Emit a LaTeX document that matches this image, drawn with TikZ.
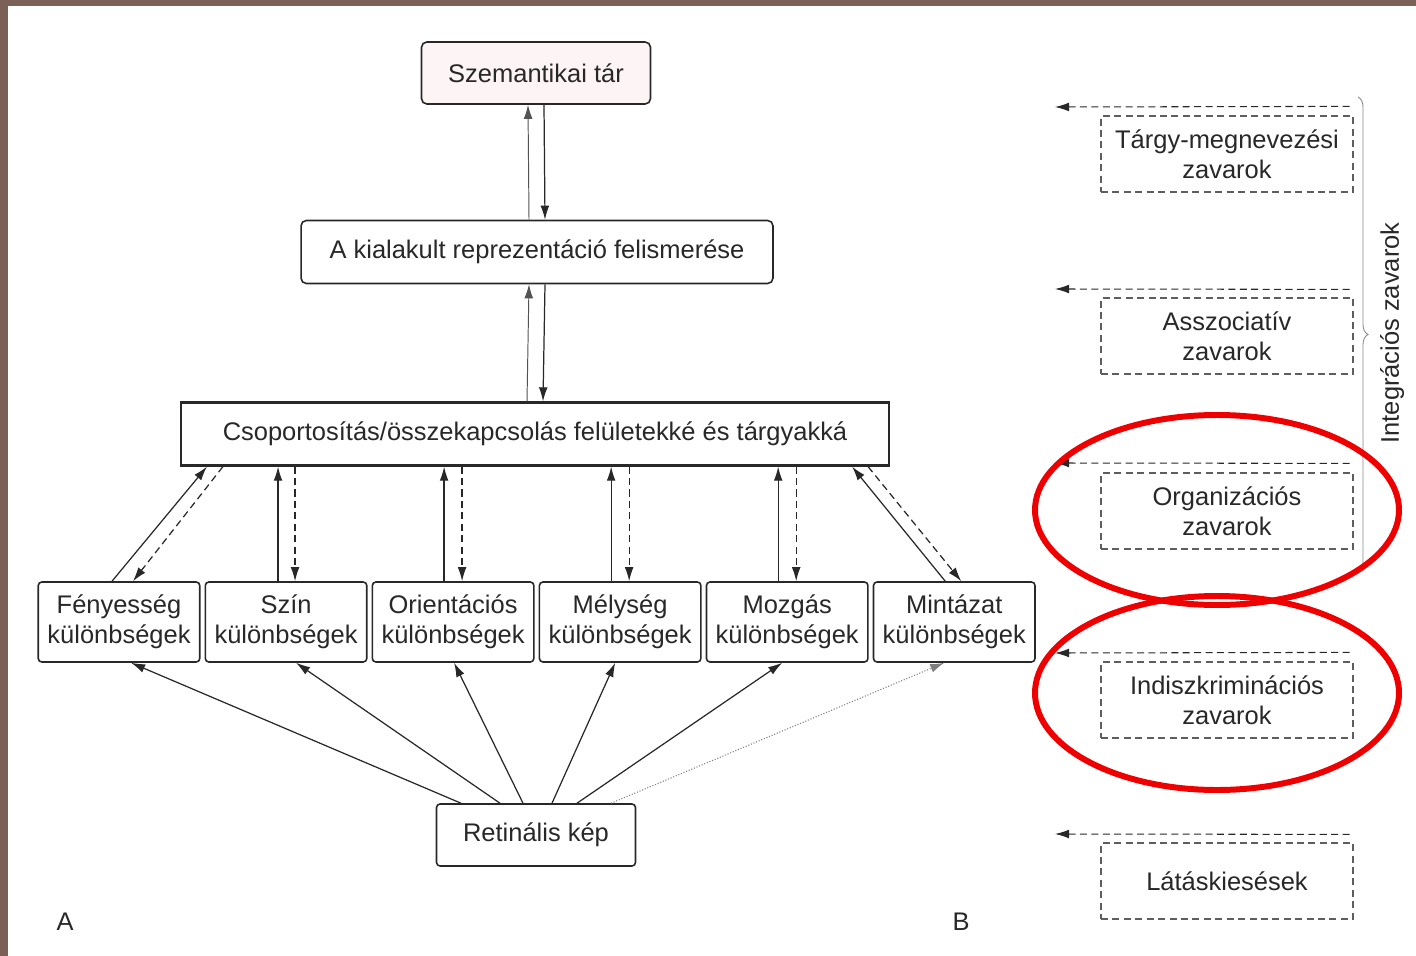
\documentclass[tikz,border=0pt]{standalone}
\usepackage{fontspec}
\setmainfont{Liberation Sans}
\usetikzlibrary{positioning,arrows.meta,decorations.pathreplacing}
\definecolor{frame}{RGB}{122,96,86}
\definecolor{ink}{RGB}{40,40,40}
\definecolor{blush}{RGB}{253,245,245}
\definecolor{mark}{RGB}{238,0,0}
\newcommand{\txt}{\fontsize{14.5}{17}\selectfont}

\begin{document}
\begin{tikzpicture}[x=0.02cm,y=-0.02cm,>={Latex[length=8pt,width=5pt]},
    box/.style={draw=ink,line width=0.9pt,align=center,text=ink,font=\txt,inner sep=2pt},
    feat/.style={box,rounded corners=2pt,minimum width=3.23cm,minimum height=1.6cm},
    zavar/.style={draw=ink!75,line width=0.7pt,dash pattern=on 4pt off 2.5pt,align=center,text=ink,font=\txt,minimum width=5.04cm,minimum height=1.52cm},
    fwd/.style={->,draw=ink,line width=0.7pt},
    back/.style={->,draw=ink,line width=0.7pt,dash pattern=on 4pt off 2.5pt},
    ring/.style={draw=mark,line width=3.4pt}]
    \useasboundingbox (0,0) rectangle (1416,956);
    \fill[white] (0,0) rectangle (1416,956);
    \fill[frame] (0,0) rectangle (8,956);
    \fill[frame] (0,0) rectangle (1416,6);

    % left column
    \node[box,rounded corners=3pt,fill=blush,minimum width=4.58cm,minimum height=1.24cm] (szem) at (536,73) {Szemantikai tár};
    \node[box,rounded corners=3pt,minimum width=9.44cm,minimum height=1.26cm] (kial) at (537,252) {A kialakult reprezentáció felismerése};
    \node[box,line width=1.3pt,minimum width=14.16cm,minimum height=1.26cm] (csop) at (535,434) {Csoportosítás/összekapcsolás felületekké és tárgyakká};
    \node[feat] (feny) at (119,622) {Fényesség\\különbségek};
    \node[feat,right=0.08cm of feny] (szin) {Szín\\különbségek};
    \node[feat,right=0.08cm of szin] (orie) {Orientációs\\különbségek};
    \node[feat,right=0.08cm of orie] (mely) {Mélység\\különbségek};
    \node[feat,right=0.08cm of mely] (mozg) {Mozgás\\különbségek};
    \node[feat,right=0.08cm of mozg] (mint) {Mintázat\\különbségek};
    \node[box,rounded corners=2pt,minimum width=3.98cm,minimum height=1.24cm] (reti) at (536,835) {Retinális kép};
    \node[text=ink,font=\txt] (betuA) at (65,922) {A};
    \node[text=ink,font=\txt] (betuB) at (961,922) {B};

    \draw[->,draw=ink!80,line width=0.55pt] ([xshift=-0.16cm]kial.north) -- ([xshift=-0.16cm]szem.south);
    \draw[fwd] ([xshift=0.16cm]szem.south) -- ([xshift=0.16cm]kial.north);
    \draw[->,draw=ink!80,line width=0.55pt] ([xshift=-0.16cm]csop.north) -- ([xshift=-0.16cm]kial.south);
    \draw[fwd] ([xshift=0.16cm]kial.south) -- ([xshift=0.16cm]csop.north);

    \draw[fwd] ([xshift=-0.14cm]feny.north) -- ([xshift=0.54cm]csop.south west);
    \draw[back] ([xshift=0.86cm]csop.south west) -- ([xshift=0.28cm]feny.north);
    \draw[fwd] ([xshift=-0.16cm]szin.north) -- ([xshift=-0.16cm]szin.north |- csop.south);
    \draw[back] ([xshift=0.18cm]szin.north |- csop.south) -- ([xshift=0.18cm]szin.north);
    \draw[fwd] ([xshift=-0.18cm]orie.north) -- ([xshift=-0.18cm]orie.north |- csop.south);
    \draw[back] ([xshift=0.18cm]orie.north |- csop.south) -- ([xshift=0.18cm]orie.north);
    \draw[fwd] ([xshift=-0.18cm]mely.north) -- ([xshift=-0.18cm]mely.north |- csop.south);
    \draw[back] ([xshift=0.18cm]mely.north |- csop.south) -- ([xshift=0.18cm]mely.north);
    \draw[fwd] ([xshift=-0.18cm]mozg.north) -- ([xshift=-0.18cm]mozg.north |- csop.south);
    \draw[back] ([xshift=0.18cm]mozg.north |- csop.south) -- ([xshift=0.18cm]mozg.north);
    \draw[fwd] ([xshift=-0.18cm]mint.north) -- ([xshift=-0.76cm]csop.south east);
    \draw[back] ([xshift=-0.44cm]csop.south east) -- ([xshift=0.14cm]mint.north);

    \draw[fwd] ([xshift=-1.5cm]reti.north) -- ([xshift=0.24cm]feny.south);
    \draw[fwd] ([xshift=-0.72cm]reti.north) -- ([xshift=0.2cm]szin.south);
    \draw[fwd] ([xshift=-0.26cm]reti.north) -- ([xshift=0.02cm]orie.south);
    \draw[fwd] ([xshift=0.32cm]reti.north) -- ([xshift=-0.1cm]mely.south);
    \draw[fwd] ([xshift=0.82cm]reti.north) -- ([xshift=-0.1cm]mozg.south);
    \draw[->,draw=ink!60,line width=0.6pt,densely dotted] ([xshift=1.5cm]reti.north) -- ([xshift=-0.2cm]mint.south);

    % right column
    \node[zavar] (targy) at (1227,154) {Tárgy-megnevezési\\zavarok};
    \node[zavar] (assz) at (1227,336) {Asszociatív\\zavarok};
    \node[zavar] (orga) at (1227,511) {Organizációs\\zavarok};
    \node[zavar] (indi) at (1227,700) {Indiszkriminációs\\zavarok};
    \node[zavar] (latas) at (1227,881) {Látáskiesések};
    \coordinate (v1) at (1055,107);
    \coordinate (v2) at (1055,289);
    \coordinate (v3) at (1055,463);
    \coordinate (v4) at (1055,653);
    \coordinate (v5) at (1055,834);
    \draw[back,line width=0.6pt] ([shift={(-0.08cm,0.18cm)}]targy.north east) -- (v1);
    \draw[back,line width=0.6pt] ([shift={(-0.08cm,0.16cm)}]assz.north east) -- (v2);
    \draw[back,line width=0.6pt] ([shift={(-0.08cm,0.18cm)}]orga.north east) -- (v3);
    \draw[back,line width=0.6pt] ([shift={(-0.08cm,0.18cm)}]indi.north east) -- (v4);
    \draw[back,line width=0.6pt] ([shift={(-0.08cm,0.16cm)}]latas.north east) -- (v5);

    \draw[draw=ink!55,line width=0.5pt,decorate,decoration={brace,amplitude=0.2cm}] (1358,97) -- (1358,572);
    \node[rotate=90,text=ink,font=\txt] (integ) at (1392,333) {Integrációs zavarok};

    \draw[ring] (1217,510) ellipse [x radius=182,y radius=95];
    \draw[ring] (1217,693) ellipse [x radius=182,y radius=97];
  \end{tikzpicture}
\end{document}
